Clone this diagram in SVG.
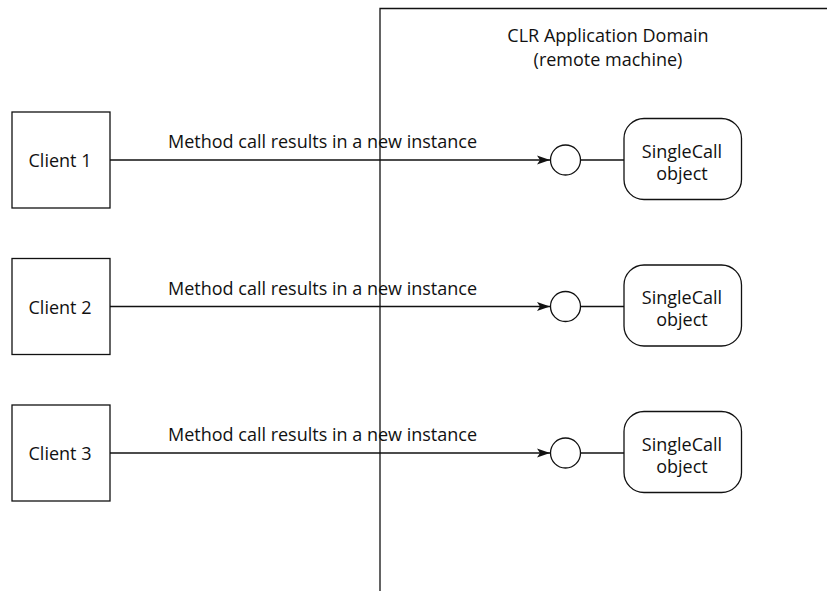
<svg xmlns="http://www.w3.org/2000/svg" width="827" height="591" viewBox="0 0 827 591">
<style>
text{font-family:"Open Sans","DejaVu Sans",sans-serif;font-size:18px;fill:#111;}
.c{text-anchor:middle;}
.b{fill:#fff;stroke:#111;stroke-width:1.3;}
.l{stroke:#111;stroke-width:1.3;fill:none;}
</style>
<defs>
<marker id="ar" markerWidth="14" markerHeight="10" refX="13" refY="5" orient="auto" markerUnits="userSpaceOnUse">
<path d="M0,0.5 L13,5 L0,9.5 L3,5 Z" fill="#111"/>
</marker>
</defs>
<g id="domain">
<path class="l" d="M380,591 L380,8.5 L827,8.5"/>
<text class="c" x="608" y="41.5">CLR Application Domain</text>
<text class="c" x="608" y="66">(remote machine)</text>
</g>
<g id="connectors">
<line class="l" x1="110" y1="160" x2="550" y2="160" marker-end="url(#ar)"/>
<line class="l" x1="581" y1="160" x2="624" y2="160"/>
<line class="l" x1="110" y1="306.5" x2="550" y2="306.5" marker-end="url(#ar)"/>
<line class="l" x1="581" y1="306.5" x2="624" y2="306.5"/>
<line class="l" x1="110" y1="453" x2="550" y2="453" marker-end="url(#ar)"/>
<line class="l" x1="581" y1="453" x2="624" y2="453"/>
<text x="168" y="148">Method call results in a new instance</text>
<text x="168" y="294.5">Method call results in a new instance</text>
<text x="168" y="441">Method call results in a new instance</text>
</g>
<g id="client1"><rect class="b" x="12" y="112" width="98" height="96"/><text class="c" x="60" y="167">Client 1</text></g>
<g id="client2"><rect class="b" x="12" y="258.5" width="98" height="96"/><text class="c" x="60" y="313.5">Client 2</text></g>
<g id="client3"><rect class="b" x="12" y="405" width="98" height="96"/><text class="c" x="60" y="460">Client 3</text></g>
<g id="port1"><circle class="b" cx="565.5" cy="160" r="15"/></g>
<g id="port2"><circle class="b" cx="565.5" cy="306.5" r="15"/></g>
<g id="port3"><circle class="b" cx="565.5" cy="453" r="15"/></g>
<g id="obj1"><rect class="b" x="624" y="118.5" width="117.5" height="81" rx="20"/><text class="c" x="682" y="157.5">SingleCall</text><text class="c" x="682" y="179.5">object</text></g>
<g id="obj2"><rect class="b" x="624" y="265" width="117.5" height="81" rx="20"/><text class="c" x="682" y="304">SingleCall</text><text class="c" x="682" y="326">object</text></g>
<g id="obj3"><rect class="b" x="624" y="411.5" width="117.5" height="81" rx="20"/><text class="c" x="682" y="450.5">SingleCall</text><text class="c" x="682" y="472.5">object</text></g>
</svg>
